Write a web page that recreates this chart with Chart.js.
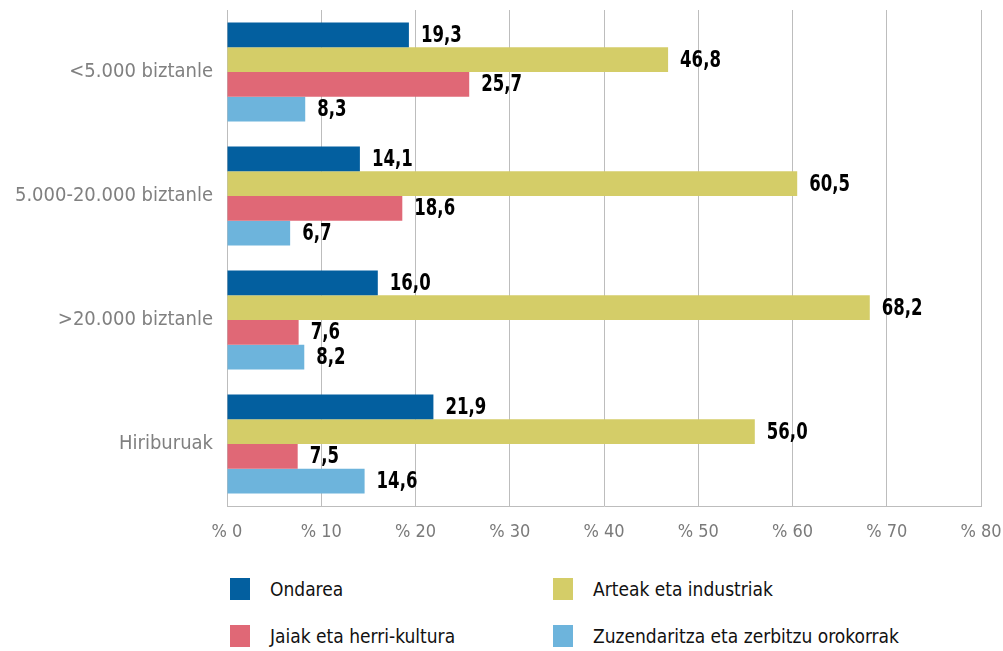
<!DOCTYPE html>
<html lang="eu">
<head>
    <meta charset="UTF-8">
    <title>Gastua eremuka</title>
    <style>
        body {
            margin: 0;
            background: #fff;
            font-family: 'DejaVu Sans Condensed', 'Roboto', sans-serif;
        }
        .chart-wrap {
            position: relative;
            width: 1003px;
            height: 560px;
        }
        .legend {
            display: grid;
            grid-template-columns: 323px 400px;
            row-gap: 25px;
            margin-left: 230px;
            margin-top: 18px;
        }
        .legend-item {
            display: flex;
            align-items: center;
            font-size: 19px;
            color: #111;
            height: 22px;
        }
        .legend-item span.box {
            display: inline-block;
            width: 20px;
            height: 22px;
            margin-right: 20px;
        }
    </style>
    <script src="https://cdn.jsdelivr.net/npm/chart.js"></script>
</head>
<body>
    <div class="chart-wrap">
        <canvas id="chart"></canvas>
    </div>
    <div class="legend" id="legend"></div>

    <script>
        const categories = ['<5.000 biztanle', '5.000-20.000 biztanle', '>20.000 biztanle', 'Hiriburuak'];
        const seriesNames = ['Ondarea', 'Arteak eta industriak', 'Jaiak eta herri-kultura', 'Zuzendaritza eta zerbitzu orokorrak'];
        const ondarea = [19.3, 14.1, 16.0, 21.9];
        const arteak = [46.8, 60.5, 68.2, 56.0];
        const jaiak = [25.7, 18.6, 7.6, 7.5];
        const zuzendaritza = [8.3, 6.7, 8.2, 14.6];
        const xTicks = [0, 10, 20, 30, 40, 50, 60, 70, 80];

        const colors = ['#035f9f', '#d4cd68', '#e06876', '#6db4dc'];
        const fontFamily = "'DejaVu Sans Condensed', 'Roboto', sans-serif";

        const datasets = [ondarea, arteak, jaiak, zuzendaritza].map((vals, i) => ({
            label: seriesNames[i],
            data: vals,
            backgroundColor: colors[i],
            categoryPercentage: 0.8,
            barPercentage: 1.0
        }));

        // value labels at the end of each bar (squeezed a bit, like the condensed original)
        const valueLabels = {
            id: 'valueLabels',
            afterDatasetsDraw(chart) {
                const ctx = chart.ctx;
                chart.data.datasets.forEach((ds, i) => {
                    chart.getDatasetMeta(i).data.forEach((bar, j) => {
                        const txt = ds.data[j].toFixed(1).replace('.', ',');
                        ctx.save();
                        ctx.font = 'bold 23px ' + fontFamily;
                        ctx.fillStyle = '#000';
                        ctx.textBaseline = 'middle';
                        ctx.translate(bar.x + 12, bar.y + 1);
                        ctx.scale(0.8, 1);
                        ctx.fillText(txt, 0, 0);
                        ctx.restore();
                    });
                });
            }
        };

        new Chart(document.getElementById('chart'), {
            type: 'bar',
            data: { labels: categories, datasets: datasets },
            options: {
                indexAxis: 'y',
                responsive: true,
                maintainAspectRatio: false,
                animation: false,
                layout: { padding: { top: 0, right: 0, bottom: 0, left: 0 } },
                plugins: {
                    legend: { display: false },
                    tooltip: { enabled: false }
                },
                scales: {
                    x: {
                        min: 0,
                        max: 80,
                        afterBuildTicks(scale) {
                            scale.ticks = xTicks.map(v => ({ value: v }));
                        },
                        afterFit(scale) {
                            scale.height = 54;
                            scale.paddingRight = 22;
                        },
                        ticks: {
                            callback: v => '% ' + v,
                            color: '#7a7a7a',
                            font: { family: fontFamily, size: 18 },
                            padding: 16,
                            maxRotation: 0
                        },
                        grid: { color: '#bdbdbd', drawTicks: false, lineWidth: 1 },
                        border: { color: '#bdbdbd' }
                    },
                    y: {
                        afterFit(scale) {
                            scale.width = 227;
                            scale.paddingTop = 10;
                            scale.paddingBottom = 0;
                        },
                        ticks: {
                            color: '#808080',
                            font: { family: fontFamily, size: 20 },
                            padding: 14
                        },
                        grid: { display: false, drawTicks: false },
                        border: { color: '#bdbdbd' }
                    }
                }
            },
            plugins: [valueLabels]
        });

        // legend in two columns
        const legend = document.getElementById('legend');
        seriesNames.forEach((name, i) => {
            const item = document.createElement('div');
            item.className = 'legend-item';
            item.innerHTML = '<span class="box" style="background:' + colors[i] + '"></span>' + name;
            legend.appendChild(item);
        });
    </script>
</body>
</html>
